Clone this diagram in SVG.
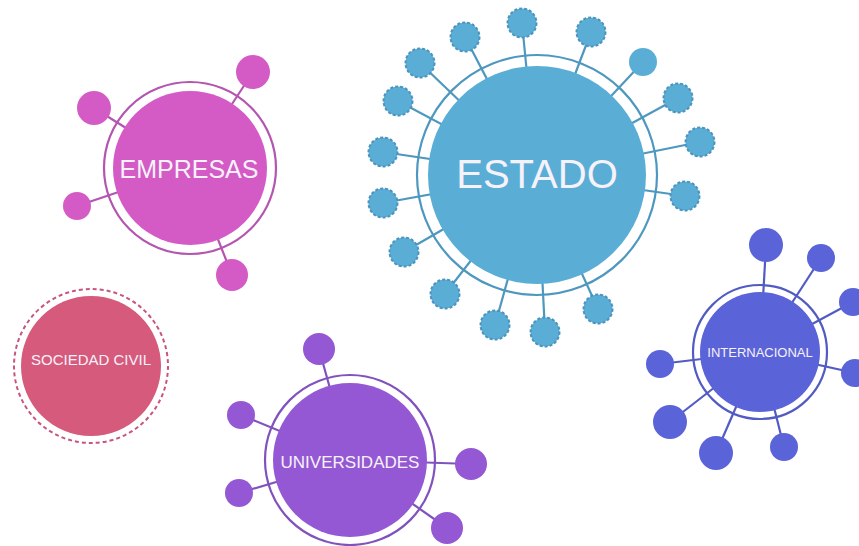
<svg xmlns="http://www.w3.org/2000/svg" width="859" height="546" viewBox="0 0 859 546">
<style>
.lbl{font-family:"Liberation Sans",Arial,sans-serif;fill:#F7F2FA;text-anchor:middle}
.ring{fill:none;stroke-width:2}
.emp{fill:#D45BC6}.emps{stroke:#B455B0;stroke-width:2.2}
.est{fill:#5AAED6}.ests{stroke:#4E98C0;stroke-width:2.2}
.estd{fill:#5AAED6;stroke:#4C93BE;stroke-width:2;stroke-dasharray:3 2}
.uni{fill:#9558D4}.unis{stroke:#8152BE;stroke-width:2.2}
.int{fill:#5A63D8}.ints{stroke:#525BC4;stroke-width:2.2}
</style>
<rect width="859" height="546" fill="#FFFFFF"/>
<g id="connectors" fill="none">
  <g class="emps">
    <line x1="253" y1="72" x2="190" y2="168"/>
    <line x1="94" y1="108" x2="190" y2="168"/>
    <line x1="77" y1="206" x2="190" y2="168"/>
    <line x1="232" y1="275" x2="190" y2="168"/>
  </g>
  <g class="ests">
    <line x1="522" y1="23" x2="537" y2="175"/>
    <line x1="465" y1="37" x2="537" y2="175"/>
    <line x1="591" y1="32" x2="537" y2="175"/>
    <line x1="420" y1="63" x2="537" y2="175"/>
    <line x1="643" y1="62" x2="537" y2="175"/>
    <line x1="398" y1="101" x2="537" y2="175"/>
    <line x1="678" y1="98" x2="537" y2="175"/>
    <line x1="383" y1="152" x2="537" y2="175"/>
    <line x1="700" y1="142" x2="537" y2="175"/>
    <line x1="383" y1="203" x2="537" y2="175"/>
    <line x1="685" y1="196" x2="537" y2="175"/>
    <line x1="404" y1="252" x2="537" y2="175"/>
    <line x1="445" y1="294" x2="537" y2="175"/>
    <line x1="598" y1="309" x2="537" y2="175"/>
    <line x1="495" y1="325" x2="537" y2="175"/>
    <line x1="545" y1="332" x2="537" y2="175"/>
  </g>
  <g class="unis">
    <line x1="319" y1="349" x2="350" y2="460"/>
    <line x1="241" y1="415" x2="350" y2="460"/>
    <line x1="239" y1="493" x2="350" y2="460"/>
    <line x1="471" y1="464" x2="350" y2="460"/>
    <line x1="447" y1="528" x2="350" y2="460"/>
  </g>
  <g class="ints">
    <line x1="766" y1="245" x2="760" y2="352"/>
    <line x1="821" y1="258" x2="760" y2="352"/>
    <line x1="853" y1="302" x2="760" y2="352"/>
    <line x1="855" y1="373" x2="760" y2="352"/>
    <line x1="660" y1="364" x2="760" y2="352"/>
    <line x1="670" y1="422" x2="760" y2="352"/>
    <line x1="716" y1="453" x2="760" y2="352"/>
    <line x1="784" y1="447" x2="760" y2="352"/>
  </g>
</g>
<g id="empresas">
  <circle class="ring emps" cx="190" cy="168" r="86"/>
  <circle class="emp" cx="190" cy="168" r="77"/>
  <circle class="emp" cx="253" cy="72" r="17"/>
  <circle class="emp" cx="94" cy="108" r="17"/>
  <circle class="emp" cx="77" cy="206" r="14"/>
  <circle class="emp" cx="232" cy="275" r="16"/>
  <text class="lbl" x="189" y="178" font-size="25">EMPRESAS</text>
</g>
<g id="estado">
  <circle class="ring ests" cx="537" cy="175" r="120"/>
  <circle class="est" cx="537" cy="175" r="109"/>
  <circle class="estd" cx="522" cy="23" r="14.5"/>
  <circle class="estd" cx="465" cy="37" r="14.5"/>
  <circle class="estd" cx="591" cy="32" r="14.5"/>
  <circle class="estd" cx="420" cy="63" r="14.5"/>
  <circle class="est" cx="643" cy="62" r="14"/>
  <circle class="estd" cx="398" cy="101" r="14.5"/>
  <circle class="estd" cx="678" cy="98" r="14.5"/>
  <circle class="estd" cx="383" cy="152" r="14.5"/>
  <circle class="estd" cx="700" cy="142" r="14.5"/>
  <circle class="estd" cx="383" cy="203" r="14.5"/>
  <circle class="estd" cx="685" cy="196" r="14.5"/>
  <circle class="estd" cx="404" cy="252" r="14.5"/>
  <circle class="estd" cx="445" cy="294" r="14.5"/>
  <circle class="estd" cx="598" cy="309" r="14.5"/>
  <circle class="estd" cx="495" cy="325" r="14.5"/>
  <circle class="estd" cx="545" cy="332" r="14.5"/>
  <text class="lbl" x="537" y="188" font-size="40">ESTADO</text>
</g>
<g id="sociedad-civil">
  <circle cx="91" cy="366" r="77" fill="none" stroke="#C8557F" stroke-width="2" stroke-dasharray="4 3"/>
  <circle cx="91" cy="366" r="70" fill="#D65A7C"/>
  <text class="lbl" x="91" y="365" font-size="15">SOCIEDAD CIVIL</text>
</g>
<g id="universidades">
  <circle class="ring unis" cx="350" cy="460" r="85"/>
  <circle class="uni" cx="350" cy="460" r="77"/>
  <circle class="uni" cx="319" cy="349" r="16"/>
  <circle class="uni" cx="241" cy="415" r="14"/>
  <circle class="uni" cx="239" cy="493" r="14"/>
  <circle class="uni" cx="471" cy="464" r="16"/>
  <circle class="uni" cx="447" cy="528" r="16"/>
  <text class="lbl" x="350" y="468" font-size="17">UNIVERSIDADES</text>
</g>
<g id="internacional">
  <circle class="ring ints" cx="760" cy="352" r="67"/>
  <circle class="int" cx="760" cy="352" r="60"/>
  <circle class="int" cx="766" cy="245" r="17"/>
  <circle class="int" cx="821" cy="258" r="14"/>
  <circle class="int" cx="853" cy="302" r="14"/>
  <circle class="int" cx="855" cy="373" r="14"/>
  <circle class="int" cx="660" cy="364" r="14"/>
  <circle class="int" cx="670" cy="422" r="17"/>
  <circle class="int" cx="716" cy="453" r="17"/>
  <circle class="int" cx="784" cy="447" r="14"/>
  <text class="lbl" x="760" y="357" font-size="13">INTERNACIONAL</text>
</g>
</svg>
